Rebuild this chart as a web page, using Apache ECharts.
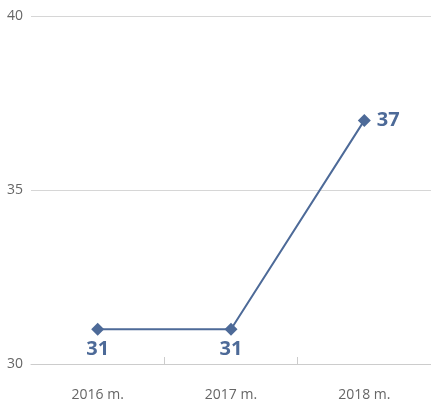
<!DOCTYPE html>
<html>
<head>
<meta charset="utf-8">
<script src="https://cdn.jsdelivr.net/npm/echarts@6/dist/echarts.min.js"></script>
<style>
  html, body { margin: 0; padding: 0; background: #fff; }
  #chart { width: 431px; height: 402px; }
</style>
</head>
<body>
<div id="chart"></div>
<script>
const years = ["2016 m.", "2017 m.", "2018 m."];
const values = [31, 31, 37];
const labelPos = ["bottom", "bottom", "right"];

const lineColor = "#4d6a98";

const myChart = echarts.init(document.getElementById("chart"));
myChart.setOption({
  animation: false,
  textStyle: { fontFamily: "Open Sans" },
  grid: { left: 31, top: 16, right: -4, height: 350 },
  xAxis: {
    type: "category",
    data: years,
    axisLine: { lineStyle: { color: "#cccccc" } },
    axisTick: {
      show: true, inside: true, length: 7,
      interval: function (i) { return i !== 0; },
      lineStyle: { color: "#cccccc" }
    },
    axisLabel: { color: "#666666", fontSize: 14, margin: 24 }
  },
  yAxis: {
    type: "value",
    min: 30,
    max: 40,
    interval: 5,
    axisLine: { show: false },
    axisTick: { show: false },
    splitLine: { lineStyle: { color: "#d6d6d6" } },
    axisLabel: { color: "#666666", fontSize: 14, margin: 8 }
  },
  series: [{
    type: "line",
    data: values.map((v, i) => ({
      value: v,
      label: { position: labelPos[i], distance: labelPos[i] === "right" ? 6 : 4 }
    })),
    symbol: "diamond",
    symbolSize: 13,
    lineStyle: { color: lineColor, width: 2 },
    itemStyle: { color: lineColor },
    label: {
      show: true,
      color: lineColor,
      fontSize: 20,
      fontWeight: "bold"
    }
  }]
});
</script>
</body>
</html>
